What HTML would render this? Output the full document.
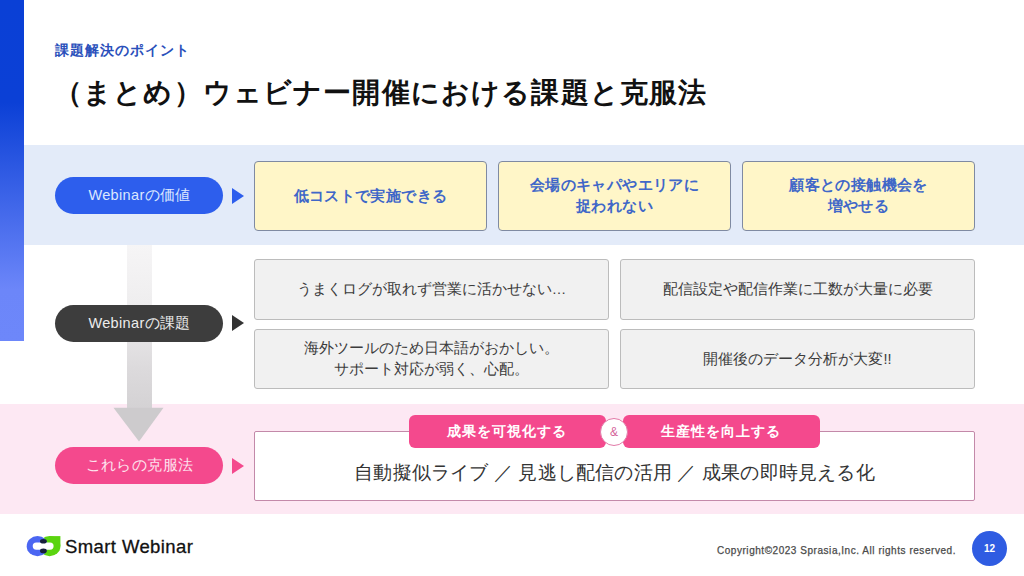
<!DOCTYPE html>
<html><head><meta charset="utf-8">
<style>
*{margin:0;padding:0;box-sizing:border-box}
html,body{width:1024px;height:576px;overflow:hidden;background:#fff}
body{position:relative;font-family:"Liberation Sans",sans-serif;color:#222}
.a{position:absolute}
.bar{left:0;top:0;width:24px;height:341px;background:linear-gradient(#0a40d6 0,#0b40d6 30%,#6c86f9 85%,#6d87fa 100%)}
.sub{left:55px;top:41px;font-size:14px;font-weight:bold;color:#2a50bb;white-space:nowrap;letter-spacing:1px;line-height:18px}
.title{left:54px;top:76px;font-size:28px;font-weight:bold;color:#111;white-space:nowrap;letter-spacing:1.15px;line-height:34px}
.band{left:0;width:1024px}
.b1{top:145px;height:100px;background:#e3ebf9}
.b3{top:404px;height:110px;background:#fde8f3}
.pill{left:55px;width:168px;height:37px;border-radius:19px;text-align:center;line-height:37px;font-size:14.5px;white-space:nowrap;letter-spacing:0.35px;text-indent:1px}
.tri{width:0;height:0;border-top:8px solid transparent;border-bottom:8px solid transparent;border-left:12px solid #2d5de6}
.ybox{top:161px;width:233px;height:70px;background:#fff6c8;border:1.5px solid #7f8aa2;border-radius:4px;display:flex;align-items:center;justify-content:center;text-align:center;color:#4067c8;font-weight:bold;font-size:15px;line-height:21px;letter-spacing:0.4px;padding-bottom:2px}
.gbox{width:355px;background:#f1f1f1;border:1px solid #bcbcbc;border-radius:3px;display:flex;align-items:center;justify-content:center;text-align:center;color:#3c3c3c;font-size:14.5px;line-height:21px}
.tab{top:415px;height:33px;background:#f4498d;border-radius:6px;color:#fff;font-weight:bold;font-size:14px;text-align:center;line-height:33px;letter-spacing:1px;text-indent:-1px}
</style></head><body>
<div class="a sub">課題解決のポイント</div>
<div class="a title">（まとめ）ウェビナー開催における課題と克服法</div>

<div class="a band b1"></div>
<div class="a bar"></div>
<div class="a band b3"></div>
<!-- gray arrow -->
<div class="a" style="left:127px;top:245px;width:25px;height:163px;background:linear-gradient(#f6f5f6 0,#efeeef 35%,#dcdadc 76%,#d4d2d4 100%)"></div>
<svg class="a" style="left:113px;top:404px" width="52" height="40"><polygon points="0.5,3.8 50.5,3.8 26,37.5" fill="#cdcbcd"/></svg>

<div class="a pill" style="top:177px;background:#2d5eed;color:#dbe7ff">Webinarの価値</div>
<div class="a tri" style="left:232px;top:188px;border-left-color:#2d5eed"></div>
<div class="a ybox" style="left:254px">低コストで実施できる</div>
<div class="a ybox" style="left:498px">会場のキャパやエリアに<br>捉われない</div>
<div class="a ybox" style="left:742px">顧客との接触機会を<br>増やせる</div>

<div class="a pill" style="top:305px;background:#3d3d3d;color:#ececec">Webinarの課題</div>
<div class="a tri" style="left:232px;top:315px;border-left-color:#333"></div>
<div class="a gbox" style="left:254px;top:259px;height:61px">うまくログが取れず営業に活かせない…</div>
<div class="a gbox" style="left:620px;top:259px;height:61px">配信設定や配信作業に工数が大量に必要</div>
<div class="a gbox" style="left:254px;top:329px;height:60px">海外ツールのため日本語がおかしい。<br>サポート対応が弱く、心配。</div>
<div class="a gbox" style="left:620px;top:329px;height:60px">開催後のデータ分析が大変!!</div>

<div class="a pill" style="top:446.5px;background:#f4498d;color:#fde3ee;line-height:36px">これらの克服法</div>
<div class="a tri" style="left:232px;top:458px;border-left-color:#f4498d"></div>
<div class="a" style="left:254px;top:431px;width:721px;height:70px;background:#fff;border:1px solid #c389a9;border-radius:2px"></div>
<div class="a" style="left:254px;top:459px;width:721px;text-align:center;font-size:18.5px;color:#333;white-space:nowrap;line-height:28px;letter-spacing:0.2px">自動擬似ライブ ／ 見逃し配信の活用 ／ 成果の即時見える化</div>
<div class="a tab" style="left:409px;width:197px">成果を可視化する</div>
<div class="a tab" style="left:623px;width:197px">生産性を向上する</div>
<div class="a" style="left:600px;top:418px;width:28px;height:28px;border-radius:50%;background:#fff;border:1px solid #e27aa8;color:#d4649a;font-size:12px;text-align:center;line-height:26px">&amp;</div>

<!-- footer -->
<svg class="a" style="left:24px;top:532px" width="40" height="28" viewBox="0 0 40 28">
<defs><clipPath id="cb"><polygon points="0,0 19.2,0 22.8,10.4 22.8,17.7 19.2,28 0,28"/></clipPath></defs>
<ellipse cx="25.6" cy="14.2" rx="10.8" ry="10.1" fill="#5bd40f"/><rect x="25.6" y="4.1" width="10.8" height="10.1" fill="#5bd40f"/>
<ellipse clip-path="url(#cb)" cx="13.5" cy="14.2" rx="10.8" ry="10.1" fill="#4b66f2"/>
<path fill="#fff" d="M12.35,10.4 L25.95,10.4 A3.65,3.65 0 0 1 25.95,17.7 L12.35,17.7 A3.65,3.65 0 0 1 12.35,10.4 Z"/>
<ellipse cx="19.4" cy="9.3" rx="3.4" ry="2.3" fill="#17203a"/>
<ellipse cx="19.4" cy="18.9" rx="3.4" ry="2.3" fill="#17203a"/>
</svg>
<div class="a" style="left:65px;top:536px;font-size:18.5px;color:#111;line-height:22px;white-space:nowrap;letter-spacing:0.4px;-webkit-text-stroke:0.3px #111">Smart Webinar</div>
<div class="a" style="left:717px;top:544px;font-size:10px;color:#4a4a4a;letter-spacing:0.54px;-webkit-text-stroke:0.25px #4a4a4a;line-height:14px;white-space:nowrap">Copyright©2023 Sprasia,Inc. All rights reserved.</div>
<div class="a" style="left:972px;top:531px;width:35px;height:35px;border-radius:50%;background:#2f5ce2;color:#fff;font-size:10px;font-weight:bold;text-align:center;line-height:35px">12</div>
</body></html>
